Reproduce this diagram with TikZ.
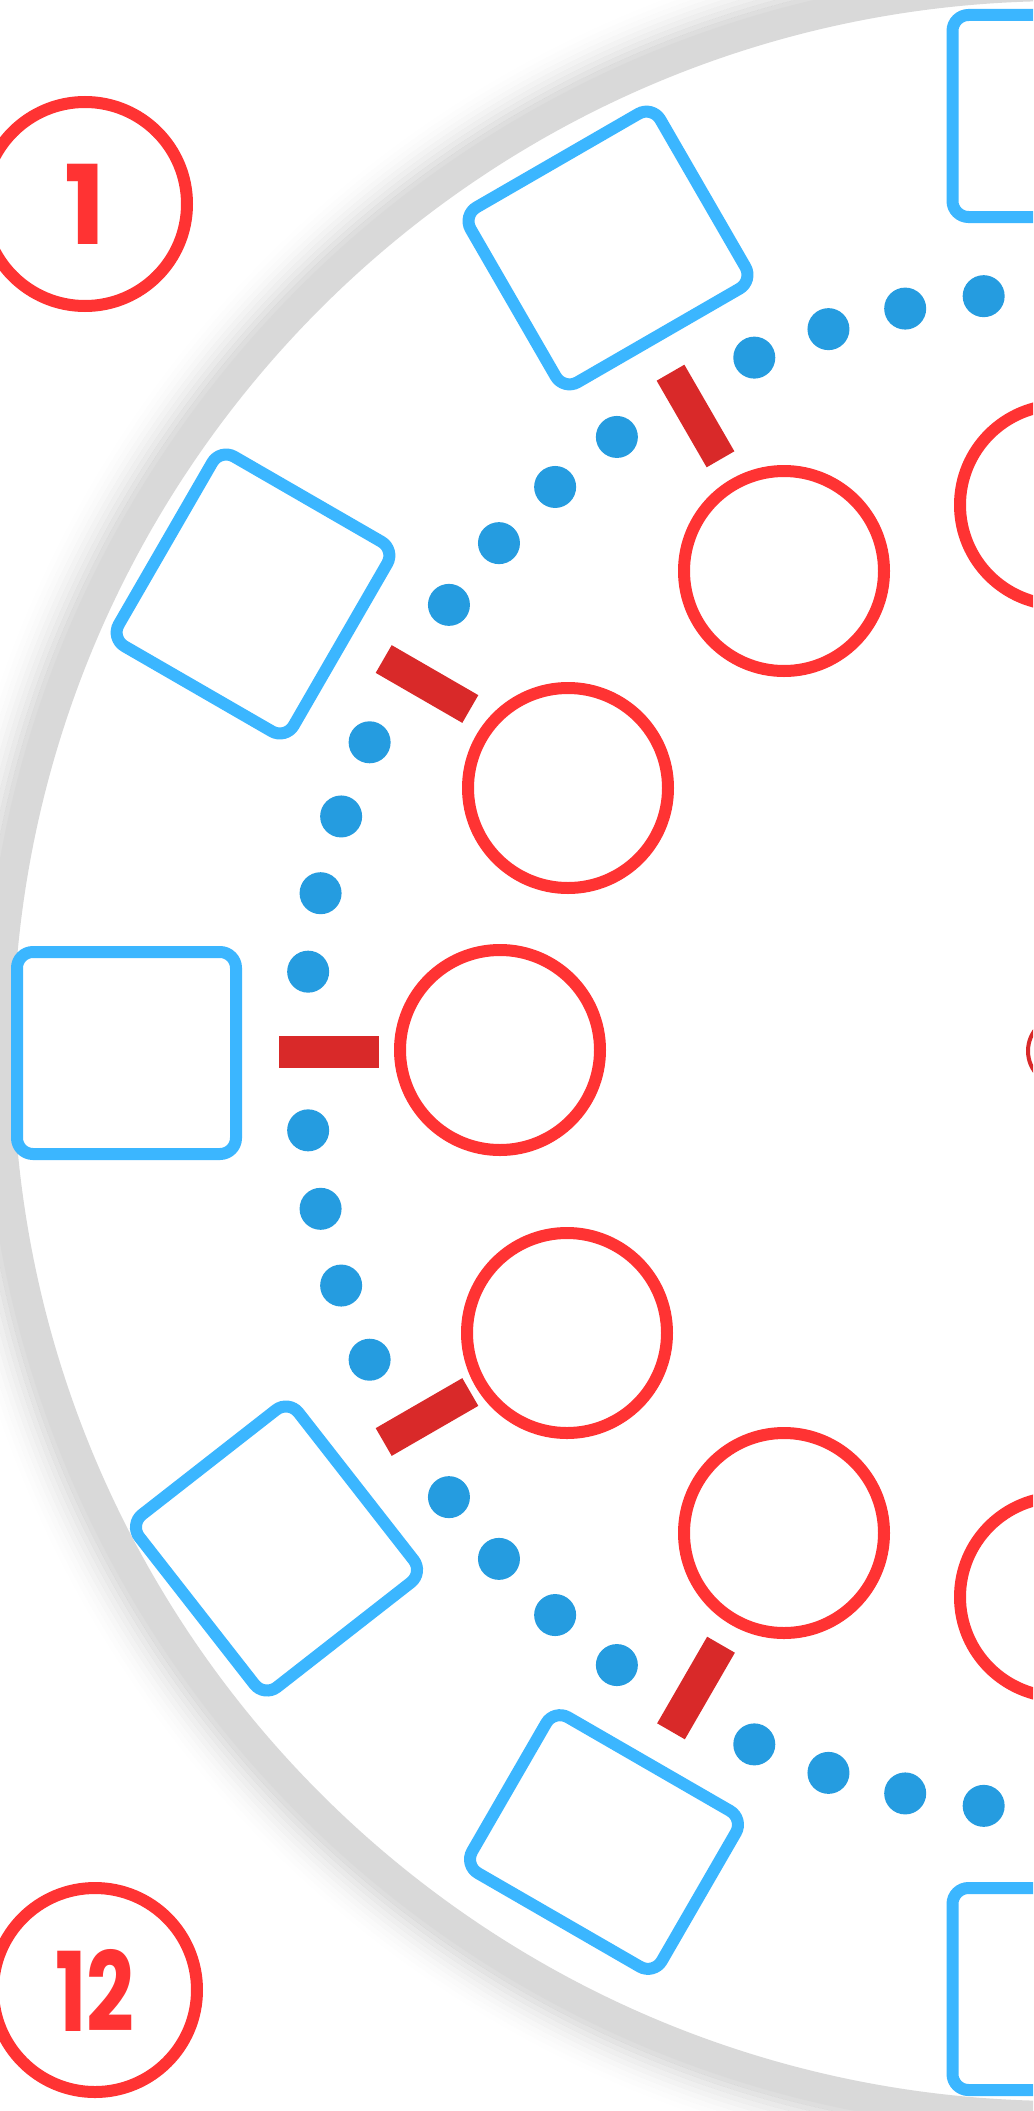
\documentclass[tikz,border=0pt]{standalone}
\usepackage{fontspec}
\newfontfamily\badgefont{Poppins}

\definecolor{chairblue}{HTML}{3BB6FF}
\definecolor{dotblue}{HTML}{259CE0}
\definecolor{platered}{HTML}{FF3333}
\definecolor{knifered}{HTML}{D92929}
\definecolor{rimgray}{HTML}{D9D9D9}

\tikzset{
  chair/.style={draw=chairblue, line width=12pt, rounded corners=16pt,
    minimum width=219pt, minimum height=202pt, inner sep=0pt},
  plate/.style={circle, draw=platered, line width=12pt, minimum size=200pt, inner sep=0pt},
  knife/.style={fill=knifered, minimum width=100pt, minimum height=32pt, inner sep=0pt},
  badge/.style={circle, draw=platered, line width=12pt, minimum size=204pt, inner sep=0pt,
    fill=white, text=platered, font=\badgefont\bfseries\fontsize{110}{110}\selectfont},
}

\begin{document}
\begin{tikzpicture}[x=1pt, y=-1pt]
    \useasboundingbox (0,0) rectangle (1033,2111);
    \clip (0,0) rectangle (1033,2111);
    \fill[white] (0,0) rectangle (1033,2111);
    \coordinate (ctr) at (1063,1051);

    % soft shadow round the table
    \foreach \k [evaluate=\k as \op using 0.0013*(11-\k)*(11-\k),
                 evaluate=\k as \rr using 1077+5*\k] in {1,...,10}
        \draw[black, opacity=\op, line width=5pt] (ctr) circle[radius=\rr pt];

    % table top and its centre mark
    \draw[draw=rimgray, line width=30pt, fill=white] (ctr) circle[radius=1065pt];
    \draw[knifered, line width=4pt] (ctr) circle[radius=35pt];

    % dotted ring between the seats
    \foreach \s in {90,120,...,240}
        \foreach \j in {6,12,18,24}
            \fill[dotblue] ([shift={(\s+\j:759pt)}]ctr) circle[radius=21pt];

    % chairs
    \node[chair] (chair1) at (1062,116) {};
    \node[chair, rotate=30] (chair2) at (608,248) {};
    \node[chair, rotate=60] (chair3) at (253,594) {};
    \node[chair] (chair4) at (126.5,1053) {};
    \node[chair, rotate=-52] (chair5) at (276.5,1548.5) {};
    \node[chair, rotate=-30, minimum height=180pt] (chair6) at (604,1842) {};
    \node[chair] (chair7) at (1062,1989) {};

    % plates
    \node[plate] (plate1) at (1060,505) {};
    \node[plate] (plate2) at (784,571) {};
    \node[plate] (plate3) at (568,788) {};
    \node[plate] (plate4) at (500,1050) {};
    \node[plate] (plate5) at (567,1333) {};
    \node[plate] (plate6) at (784,1533) {};
    \node[plate] (plate7) at (1060,1597) {};

    % knives
    \node[knife, rotate=120] (knife2) at (695.5,416) {};
    \node[knife, rotate=150] (knife3) at (427,684) {};
    \node[knife] (knife4) at (329,1052) {};
    \node[knife, rotate=210] (knife5) at (427,1417) {};
    \node[knife, rotate=240] (knife6) at (696,1688) {};

    % table numbers
    \node[badge] (num1) at (85,204) {1};
    \node[badge] (num12) at (95,1990) {\scalebox{0.76}[1]{12}};
\end{tikzpicture}
\end{document}
